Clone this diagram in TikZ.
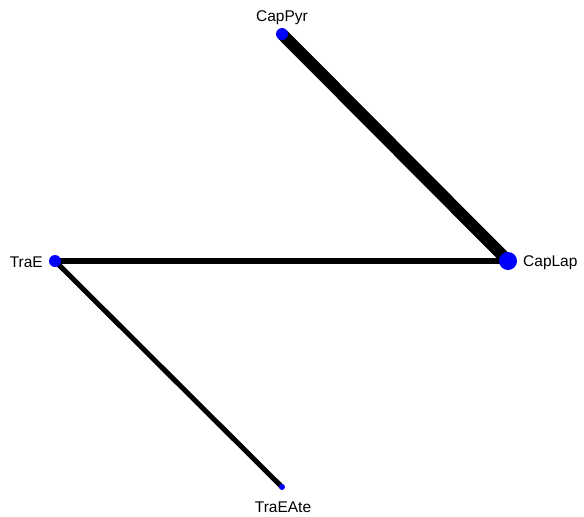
\documentclass[tikz,border=0pt]{standalone}
\usepackage{fontspec}
\setmainfont{Liberation Sans}
\begin{document}
\begin{tikzpicture}[x=1pt, y=-1pt]
  \tikzset{
    vert/.style={circle, fill=blue, inner sep=0pt, minimum size=#1},
    lbl/.style={font=\fontsize{15.5}{16}\selectfont, inner sep=0pt},
    edge/.style={line width=#1, black}
  }
  \useasboundingbox (0,0) rectangle (584,517);
  % Knoten
  \coordinate (pyr) at (282,34);
  \coordinate (lap) at (508,261);
  \coordinate (trae) at (55,261);
  \coordinate (ate) at (282,487);
  % Kanten
  \draw[edge=12pt] (pyr) -- (lap);
  \draw[edge=6pt] (trae) -- (lap);
  \draw[edge=5pt] (trae) -- (ate);
  % Punkte
  \node[vert=12pt] (CapPyr) at (pyr) {};
  \node[vert=18pt] (CapLap) at (lap) {};
  \node[vert=12pt] (TraE) at (trae) {};
  \node[vert=6pt] (TraEAte) at (ate) {};
  % Beschriftungen
  \node[lbl] (lCapPyr) at (282,18) {CapPyr};
  \node[lbl, anchor=west] (lCapLap) at (523,263) {CapLap};
  \node[lbl, anchor=east] (lTraE) at (43,262) {TraE};
  \node[lbl] (lTraEAte) at (283,507) {TraEAte};
\end{tikzpicture}
\end{document}
